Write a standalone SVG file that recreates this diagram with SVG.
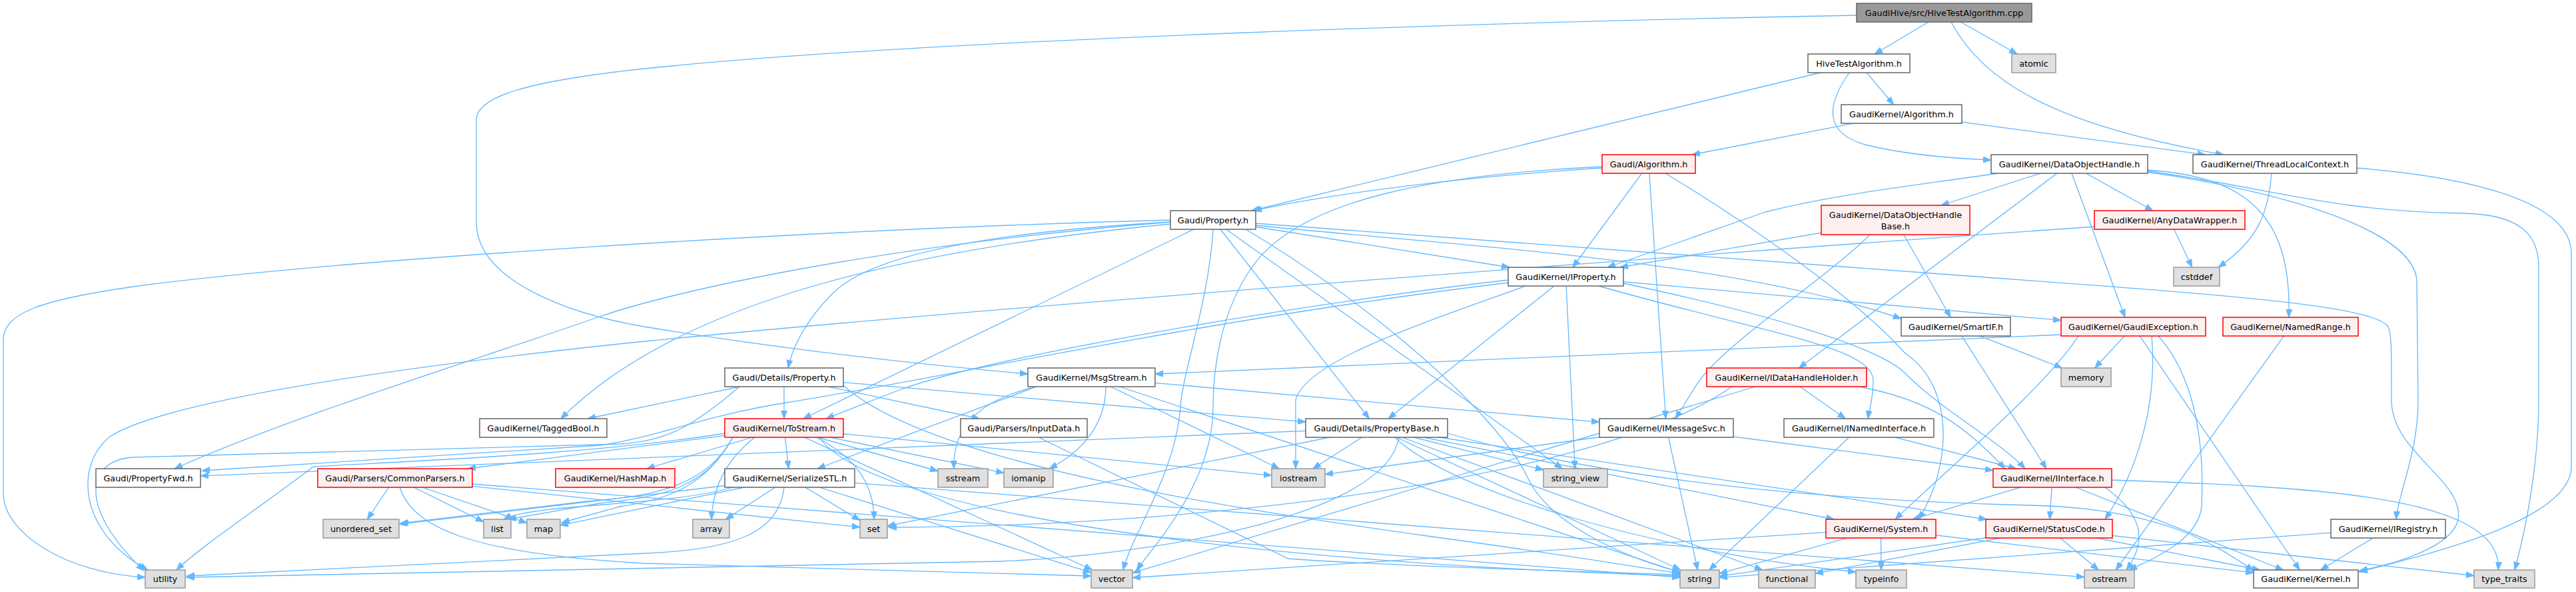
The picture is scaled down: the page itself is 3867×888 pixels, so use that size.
<svg xmlns="http://www.w3.org/2000/svg" width="3867" height="888" viewBox="0 0 3867 888">
<style>
.e{fill:none;stroke:#63b8ff;stroke-width:1.3;marker-end:url(#a)}
.n rect{fill:#ffffff;stroke:#666666;stroke-width:1.5}
.g rect{fill:#e0e0e0;stroke:#999999;stroke-width:1.5}
.r rect{fill:#fff0f0;stroke:#ff0000;stroke-width:1.5}
.root rect{fill:#999999;stroke:#666666;stroke-width:1.5}
text{font-family:"DejaVu Sans","Liberation Sans",sans-serif;font-size:12.8px;fill:#000000;text-anchor:middle}
</style>
<defs>
<marker id="a" markerUnits="userSpaceOnUse" markerWidth="13" markerHeight="10" refX="12" refY="5" orient="auto"><path d="M0,0.5 L12,5 L0,9.5 z" fill="#63b8ff" stroke="#63b8ff" stroke-width="1"/></marker>
</defs>
<rect x="0" y="0" width="3867" height="888" fill="#ffffff"/>
<g id="edges">
<path class="e" d="M2918.5,19 L2814.1,81"/>
<path class="e" d="M2918.5,19 L3028.2,81"/>
<path class="e" d="M2929,33 C2980,130 3100,190 3338,232"/>
<path class="e" d="M2787,23 C2300,32 1400,58 967,103 C790,122 715,145 715,180 L715,333 C715,420 850,470 967,490 C1200,528 1400,548 1543,561"/>
<path class="e" d="M2790.5,95 L1878.8,316"/>
<path class="e" d="M2790.5,95 L2842.7,157"/>
<path class="e" d="M2776,109 C2740,160 2740,200 2800,217 C2860,232 2940,238 2989,240"/>
<path class="e" d="M2854.5,171 L2540,232"/>
<path class="e" d="M2854.5,171 L3310.4,232"/>
<path class="e" d="M2405,252 C2200,265 2000,290 1882,316"/>
<path class="e" d="M2475,246 L2360.8,401"/>
<path class="e" d="M2475,246 L2500.6,628"/>
<path class="e" d="M2500,260 C2600,320 2780,440 2860,530 C2935,580 2930,700 2880,779"/>
<path class="e" d="M2405,250 C2150,262 1950,300 1880,400 C1830,470 1821,560 1821,610 C1821,720 1740,810 1706,855"/>
<path class="e" d="M3106.5,246 L2913.9,308"/>
<path class="e" d="M3106.5,246 L3231.9,316"/>
<path class="e" d="M2998,260 C2880,278 2760,290 2650,318 L2413,401"/>
<path class="e" d="M3110,260 L3190,476"/>
<path class="e" d="M3224,255 C3380,265 3440,330 3436,476"/>
<path class="e" d="M3106.5,246 L2700.6,552"/>
<path class="e" d="M3222,258 C3350,275 3620,330 3628,420 L3630,600 C3630,680 3600,740 3597,779"/>
<path class="e" d="M3220,256 C3400,280 3500,318 3700,320 C3780,322 3811,350 3811,400 L3811,600 C3811,700 3790,800 3775,855"/>
<path class="e" d="M3410,260 C3405,320 3390,360 3330,401"/>
<path class="e" d="M3538,252 C3700,265 3860,300 3860,380 L3860,700 C3860,780 3650,830 3541,858"/>
<path class="e" d="M1757,333 C1450,350 1300,390 1250,440 C1210,480 1190,520 1183,552"/>
<path class="e" d="M1821,330 L2055.5,628"/>
<path class="e" d="M1757,333 C1300,370 1000,440 900,475 C700,545 450,620 262,703"/>
<path class="e" d="M1821,330 L2266,401"/>
<path class="e" d="M1885,335 L2901,410 C3300,440 3560,455 3585,490 C3590,500 3590,520 3590,600 C3590,680 3700,720 3690,780 C3680,820 3600,845 3542,856"/>
<path class="e" d="M1885,338 C2200,370 2600,390 2854,478"/>
<path class="e" d="M1757,336 C1300,380 1000,470 842,628"/>
<path class="e" d="M1821,330 L1205.9,628"/>
<path class="e" d="M1870,344 C2050,450 2250,620 2295,720 C2330,790 2450,840 2522,858"/>
<path class="e" d="M1821,330 L2345.3,703"/>
<path class="e" d="M1757,330 C1200,345 500,390 200,430 C60,450 5,470 5,510 L5,740 C5,800 100,860 218,866"/>
<path class="e" d="M1821,344 C1815,450 1775,560 1772,610 C1765,710 1700,800 1686,855"/>
<path class="e" d="M2845.5,330 L2432,401"/>
<path class="e" d="M2807,352 C2740,420 2580,520 2545,580 L2515,628"/>
<path class="e" d="M2845.5,330 L2928.1,476"/>
<path class="e" d="M3257,330 L3290.8,401"/>
<path class="e" d="M3144,340 C2500,385 1500,460 967,512 C600,550 250,600 165,655 C110,700 120,800 222,855"/>
<path class="e" d="M2264,420 C2000,450 1500,530 1350,585 L1240,628"/>
<path class="e" d="M2264,424 C1800,480 1400,570 1180,604 C1050,625 990,655 900,668 L303,706"/>
<path class="e" d="M2290,429 C2150,480 1960,540 1945,600 L1945,703"/>
<path class="e" d="M2350.5,415 L2084,628"/>
<path class="e" d="M2350.5,415 L2364.3,703"/>
<path class="e" d="M2400,429 C2650,500 2810,520 2812,570 C2812,600 2806,615 2804,628"/>
<path class="e" d="M2437,425 C2650,470 2820,520 2860,560 C2920,620 3000,660 3040,703"/>
<path class="e" d="M2350.5,415 L3094,480.4"/>
<path class="e" d="M2936,490 L3072,703"/>
<path class="e" d="M2936,490 L3095.5,552"/>
<path class="e" d="M3202.5,490 L3144.6,552"/>
<path class="e" d="M3094,502 L1734,561"/>
<path class="e" d="M3120,504 C3070,580 2950,680 2845,779"/>
<path class="e" d="M3230,504 C3240,620 3200,720 3160,779"/>
<path class="e" d="M3240,504 C3290,560 3310,650 3305,760 C3300,810 3230,840 3196,855"/>
<path class="e" d="M3202.5,490 L3452.3,855"/>
<path class="e" d="M3438.5,490 L3176.2,855"/>
<path class="e" d="M1177,566 L882.1,628"/>
<path class="e" d="M1177,566 L1177,628"/>
<path class="e" d="M1177,566 L1470.7,628"/>
<path class="e" d="M1177,566 L1960,632.9"/>
<path class="e" d="M1266,578 C1400,700 1900,770 2150,805 C2350,832 2450,850 2522,860"/>
<path class="e" d="M1110,580 C1040,640 1000,662 930,666 L200,686 C130,690 115,760 216,856"/>
<path class="e" d="M1638.5,566 L2401,633.1"/>
<path class="e" d="M1556,580 L1227,703"/>
<path class="e" d="M1556,580 C1470,600 1430,640 1432,703"/>
<path class="e" d="M1660,580 C1660,640 1620,680 1575,703"/>
<path class="e" d="M1638.5,566 L1920.2,703"/>
<path class="e" d="M1638.5,566 L2522,858.7"/>
<path class="e" d="M2682,566 L2770.5,628"/>
<path class="e" d="M2790,580 C2900,600 2950,640 3010,703"/>
<path class="e" d="M2682,566 L1700,859.2"/>
<path class="e" d="M2600,580 C2400,720 1800,790 1334,791"/>
<path class="e" d="M1177,642 L970.8,703"/>
<path class="e" d="M1177,642 L1183.9,703"/>
<path class="e" d="M1177,642 L702,703"/>
<path class="e" d="M1133,656 C1090,690 1070,730 1068,779"/>
<path class="e" d="M1226,656 C1290,690 1312,730 1312,779"/>
<path class="e" d="M1177,642 L1408,706.5"/>
<path class="e" d="M1177,642 L1507,709.4"/>
<path class="e" d="M1177,642 L1909,713.1"/>
<path class="e" d="M1177,642 L1639.7,855"/>
<path class="e" d="M1230,656 C1300,760 1800,840 2522,864"/>
<path class="e" d="M1100,656 C1060,730 1000,745 900,755 L763,779"/>
<path class="e" d="M1100,656 C1060,730 1000,750 930,760 L843,784"/>
<path class="e" d="M1088,650 C900,680 650,690 470,700 C420,740 300,820 265,855"/>
<path class="e" d="M1100,656 C1060,730 980,745 880,752 L601,785"/>
<path class="e" d="M1559,656 L1934,838 C2100,850 2400,858 2522,862"/>
<path class="e" d="M2066.5,642 L301,713.8"/>
<path class="e" d="M2173,650 C2450,730 2800,752 3050,758 C3250,763 3330,820 3383,856"/>
<path class="e" d="M2066.5,642 L2982.4,779"/>
<path class="e" d="M2066.5,642 L2753.3,779"/>
<path class="e" d="M2066.5,642 L2645.8,855"/>
<path class="e" d="M2066.5,642 L1970.9,703"/>
<path class="e" d="M2066.5,642 L1332,788.9"/>
<path class="e" d="M2066.5,642 L2522.6,855"/>
<path class="e" d="M2066.5,642 L2317,704.9"/>
<path class="e" d="M2094,656 C2180,740 2500,830 2786,858"/>
<path class="e" d="M2100,656 C2080,780 1700,835 1500,842 L280,866"/>
<path class="e" d="M2501.5,642 L2992,705.5"/>
<path class="e" d="M2501.5,642 L1989,711.6"/>
<path class="e" d="M2501.5,642 L2548.5,855"/>
<path class="e" d="M2790.5,642 L3026.8,703"/>
<path class="e" d="M2790.5,642 L2565.7,855"/>
<path class="e" d="M593,717 L551.4,779"/>
<path class="e" d="M593,717 L726,782.9"/>
<path class="e" d="M593,717 L791,784.5"/>
<path class="e" d="M593,717 L1291,790.8"/>
<path class="e" d="M600,731 C620,790 700,830 967,845 L1638,864"/>
<path class="e" d="M593,717 L2522,866.2"/>
<path class="e" d="M1185.5,717 L1089.2,779"/>
<path class="e" d="M1185.5,717 L1291,780.6"/>
<path class="e" d="M1185.5,717 L1638,858.8"/>
<path class="e" d="M1100,731 C1000,760 800,755 756,779"/>
<path class="e" d="M1185.5,717 L841,787.9"/>
<path class="e" d="M1185.5,717 L599,786.3"/>
<path class="e" d="M1177,731 C1170,800 1100,825 967,830 L280,864"/>
<path class="e" d="M1185.5,717 L3129,865.6"/>
<path class="e" d="M3081,717 L2870.9,779"/>
<path class="e" d="M3081,717 L3076.9,779"/>
<path class="e" d="M3081,717 L3427.6,855"/>
<path class="e" d="M3160,731 C3215,770 3225,810 3192,855"/>
<path class="e" d="M3170,720 C3450,730 3760,740 3750,855"/>
<path class="e" d="M2823.5,793 L2581,860.3"/>
<path class="e" d="M2823.5,793 L1700,866.5"/>
<path class="e" d="M2823.5,793 L2824,855"/>
<path class="e" d="M2823.5,793 L3383,859.2"/>
<path class="e" d="M3076,793 L3150.3,855"/>
<path class="e" d="M3076,793 L3392.6,855"/>
<path class="e" d="M3076,793 L3714,863.5"/>
<path class="e" d="M3076,793 L2725,860.3"/>
<path class="e" d="M3076,793 L2581,864.3"/>
<path class="e" d="M3585,793 L3483.6,855"/>
<path class="e" d="M3585,793 L2581,866.3"/>
</g>
<g id="n_cpp" class="root"><rect x="2787" y="5" width="263" height="28"/><text x="2918.5" y="23.5">GaudiHive/src/HiveTestAlgorithm.cpp</text></g>
<g id="n_hta" class="n"><rect x="2714" y="81" width="153" height="28"/><text x="2790.5" y="99.5">HiveTestAlgorithm.h</text></g>
<g id="n_atomic" class="g"><rect x="3020" y="81" width="66" height="28"/><text x="3053" y="99.5">atomic</text></g>
<g id="n_kalg" class="n"><rect x="2764" y="157" width="181" height="28"/><text x="2854.5" y="175.5">GaudiKernel/Algorithm.h</text></g>
<g id="n_galg" class="r"><rect x="2405" y="232" width="140" height="28"/><text x="2475" y="250.5">Gaudi/Algorithm.h</text></g>
<g id="n_doh" class="n"><rect x="2989" y="232" width="235" height="28"/><text x="3106.5" y="250.5">GaudiKernel/DataObjectHandle.h</text></g>
<g id="n_tlc" class="n"><rect x="3292" y="232" width="246" height="28"/><text x="3415" y="250.5">GaudiKernel/ThreadLocalContext.h</text></g>
<g id="n_prop" class="n"><rect x="1757" y="316" width="128" height="28"/><text x="1821" y="334.5">Gaudi/Property.h</text></g>
<g id="n_dohb" class="r"><rect x="2734" y="308" width="223" height="44"/><text x="2845.5" y="326.5">GaudiKernel/DataObjectHandle</text><text x="2845.5" y="343.5">Base.h</text></g>
<g id="n_adw" class="r"><rect x="3144" y="316" width="226" height="28"/><text x="3257" y="334.5">GaudiKernel/AnyDataWrapper.h</text></g>
<g id="n_iprop" class="n"><rect x="2264" y="401" width="173" height="28"/><text x="2350.5" y="419.5">GaudiKernel/IProperty.h</text></g>
<g id="n_cstddef" class="g"><rect x="3263" y="401" width="69" height="28"/><text x="3297.5" y="419.5">cstddef</text></g>
<g id="n_smartif" class="n"><rect x="2854" y="476" width="164" height="28"/><text x="2936" y="494.5">GaudiKernel/SmartIF.h</text></g>
<g id="n_gexc" class="r"><rect x="3094" y="476" width="217" height="28"/><text x="3202.5" y="494.5">GaudiKernel/GaudiException.h</text></g>
<g id="n_nrange" class="r"><rect x="3337" y="476" width="203" height="28"/><text x="3438.5" y="494.5">GaudiKernel/NamedRange.h</text></g>
<g id="n_dprop" class="n"><rect x="1088" y="552" width="178" height="28"/><text x="1177" y="570.5">Gaudi/Details/Property.h</text></g>
<g id="n_msg" class="n"><rect x="1543" y="552" width="191" height="28"/><text x="1638.5" y="570.5">GaudiKernel/MsgStream.h</text></g>
<g id="n_idhh" class="r"><rect x="2562" y="552" width="240" height="28"/><text x="2682" y="570.5">GaudiKernel/IDataHandleHolder.h</text></g>
<g id="n_memory" class="g"><rect x="3094" y="552" width="75" height="28"/><text x="3131.5" y="570.5">memory</text></g>
<g id="n_tagged" class="n"><rect x="720" y="628" width="191" height="28"/><text x="815.5" y="646.5">GaudiKernel/TaggedBool.h</text></g>
<g id="n_tostream" class="r"><rect x="1088" y="628" width="178" height="28"/><text x="1177" y="646.5">GaudiKernel/ToStream.h</text></g>
<g id="n_input" class="n"><rect x="1442" y="628" width="190" height="28"/><text x="1537" y="646.5">Gaudi/Parsers/InputData.h</text></g>
<g id="n_pbase" class="n"><rect x="1960" y="628" width="213" height="28"/><text x="2066.5" y="646.5">Gaudi/Details/PropertyBase.h</text></g>
<g id="n_imsg" class="n"><rect x="2401" y="628" width="201" height="28"/><text x="2501.5" y="646.5">GaudiKernel/IMessageSvc.h</text></g>
<g id="n_inamed" class="n"><rect x="2678" y="628" width="225" height="28"/><text x="2790.5" y="646.5">GaudiKernel/INamedInterface.h</text></g>
<g id="n_pfwd" class="n"><rect x="144" y="703" width="157" height="28"/><text x="222.5" y="721.5">Gaudi/PropertyFwd.h</text></g>
<g id="n_cparse" class="r"><rect x="477" y="703" width="232" height="28"/><text x="593" y="721.5">Gaudi/Parsers/CommonParsers.h</text></g>
<g id="n_hashmap" class="r"><rect x="834" y="703" width="179" height="28"/><text x="923.5" y="721.5">GaudiKernel/HashMap.h</text></g>
<g id="n_sstl" class="n"><rect x="1088" y="703" width="195" height="28"/><text x="1185.5" y="721.5">GaudiKernel/SerializeSTL.h</text></g>
<g id="n_sstream" class="g"><rect x="1408" y="703" width="75" height="28"/><text x="1445.5" y="721.5">sstream</text></g>
<g id="n_iomanip" class="g"><rect x="1507" y="703" width="74" height="28"/><text x="1544" y="721.5">iomanip</text></g>
<g id="n_iostream" class="g"><rect x="1909" y="703" width="80" height="28"/><text x="1949" y="721.5">iostream</text></g>
<g id="n_sview" class="g"><rect x="2317" y="703" width="96" height="28"/><text x="2365" y="721.5">string_view</text></g>
<g id="n_iinterface" class="r"><rect x="2992" y="703" width="178" height="28"/><text x="3081" y="721.5">GaudiKernel/IInterface.h</text></g>
<g id="n_uset" class="g"><rect x="485" y="779" width="114" height="28"/><text x="542" y="797.5">unordered_set</text></g>
<g id="n_list" class="g"><rect x="726" y="779" width="41" height="28"/><text x="746.5" y="797.5">list</text></g>
<g id="n_map" class="g"><rect x="791" y="779" width="50" height="28"/><text x="816" y="797.5">map</text></g>
<g id="n_array" class="g"><rect x="1040" y="779" width="55" height="28"/><text x="1067.5" y="797.5">array</text></g>
<g id="n_set" class="g"><rect x="1291" y="779" width="41" height="28"/><text x="1311.5" y="797.5">set</text></g>
<g id="n_system" class="r"><rect x="2741" y="779" width="165" height="28"/><text x="2823.5" y="797.5">GaudiKernel/System.h</text></g>
<g id="n_status" class="r"><rect x="2981" y="779" width="190" height="28"/><text x="3076" y="797.5">GaudiKernel/StatusCode.h</text></g>
<g id="n_iregistry" class="n"><rect x="3499" y="779" width="172" height="28"/><text x="3585" y="797.5">GaudiKernel/IRegistry.h</text></g>
<g id="n_utility" class="g"><rect x="218" y="855" width="60" height="27"/><text x="248" y="873">utility</text></g>
<g id="n_vector" class="g"><rect x="1638" y="855" width="62" height="27"/><text x="1669" y="873">vector</text></g>
<g id="n_string" class="g"><rect x="2522" y="855" width="59" height="27"/><text x="2551.5" y="873">string</text></g>
<g id="n_functional" class="g"><rect x="2640" y="855" width="85" height="27"/><text x="2682.5" y="873">functional</text></g>
<g id="n_typeinfo" class="g"><rect x="2786" y="855" width="76" height="27"/><text x="2824" y="873">typeinfo</text></g>
<g id="n_ostream" class="g"><rect x="3129" y="855" width="75" height="27"/><text x="3166.5" y="873">ostream</text></g>
<g id="n_kernel" class="n"><rect x="3383" y="855" width="157" height="27"/><text x="3461.5" y="873">GaudiKernel/Kernel.h</text></g>
<g id="n_typetraits" class="g"><rect x="3714" y="855" width="91" height="27"/><text x="3759.5" y="873">type_traits</text></g>
</svg>
